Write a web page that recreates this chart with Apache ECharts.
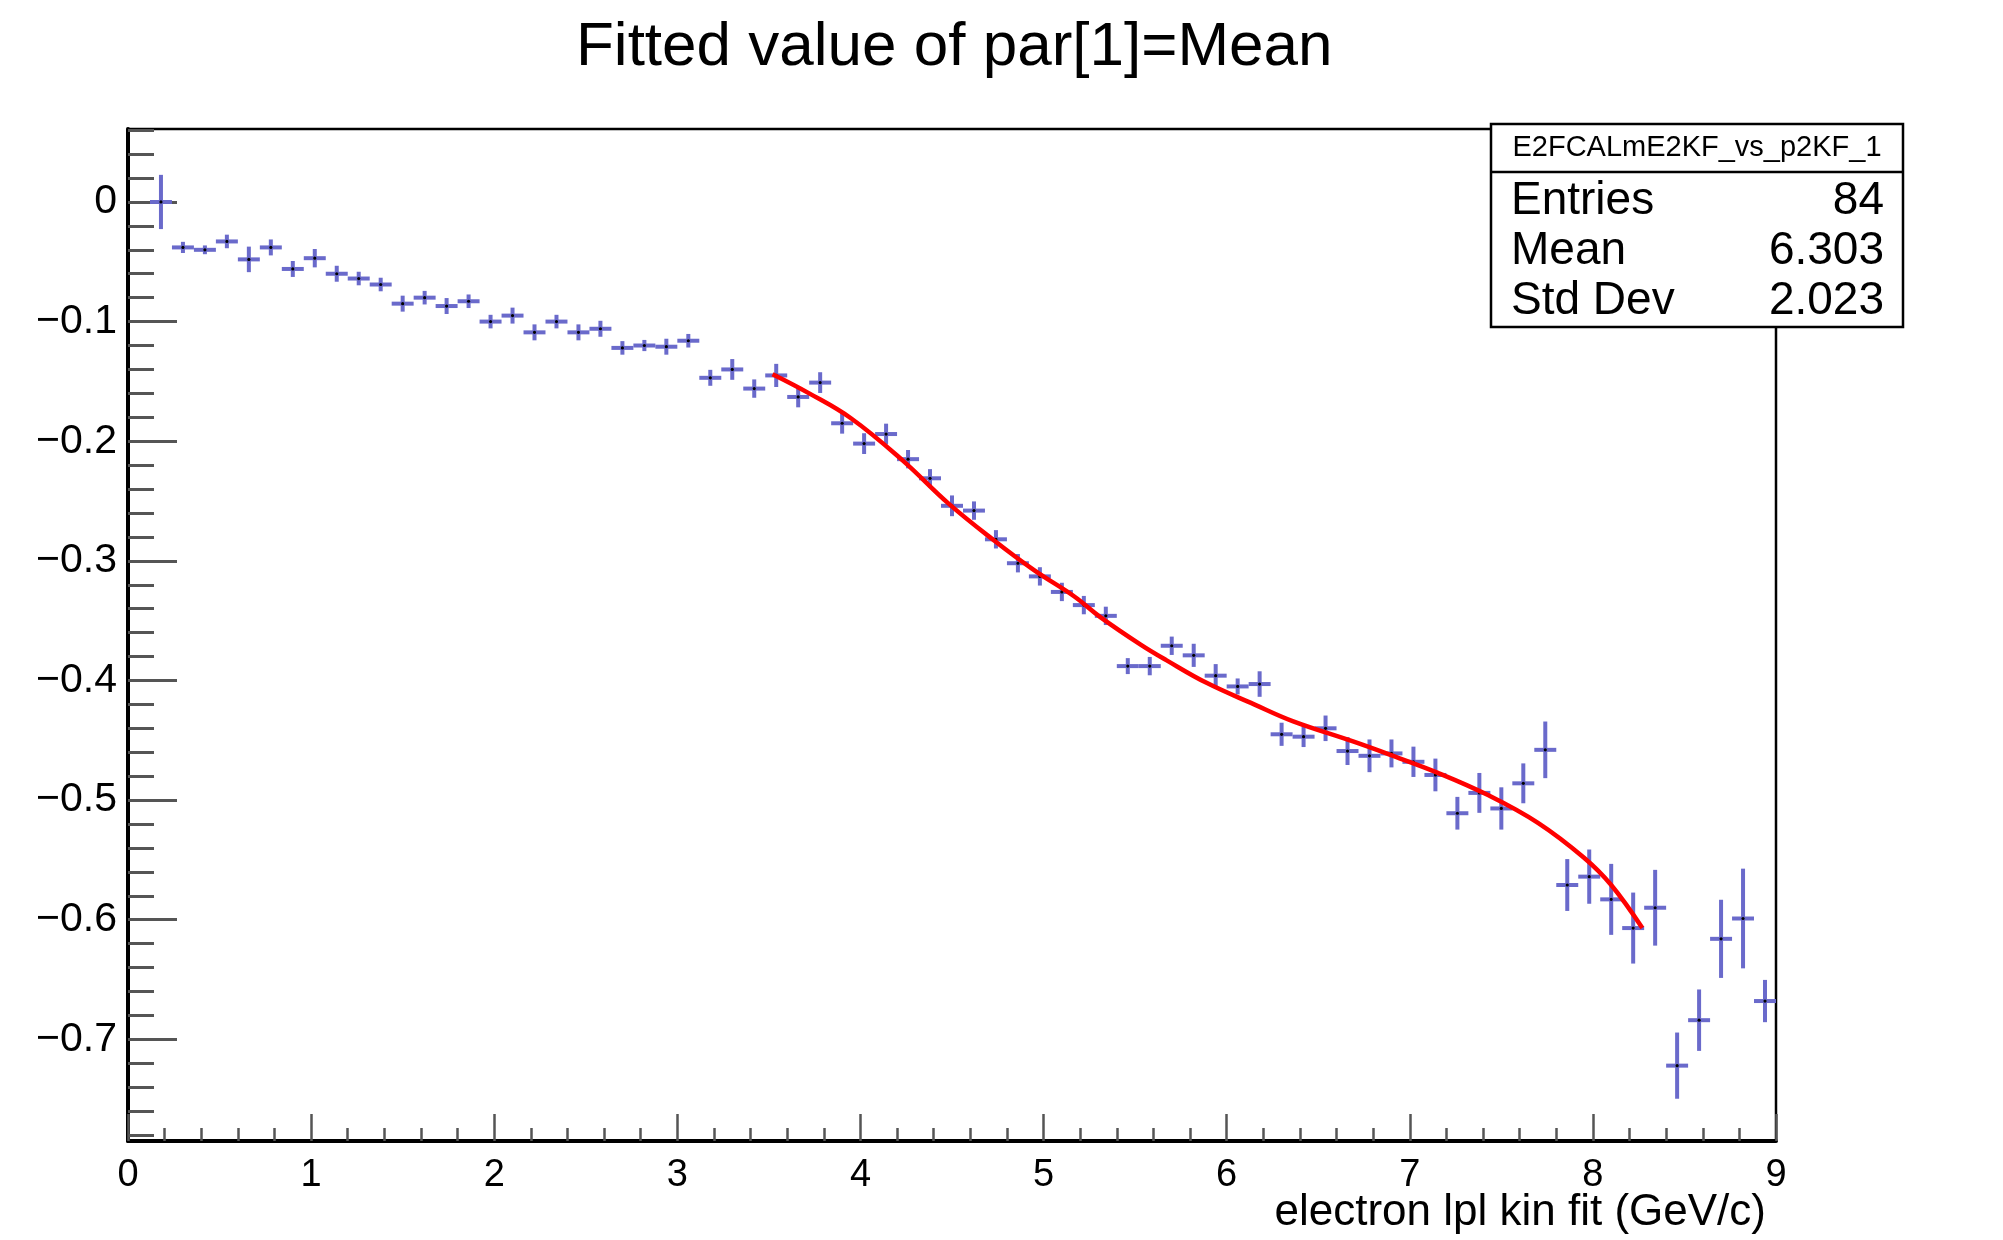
<!DOCTYPE html>
<html>
<head>
<meta charset="utf-8">
<script src="https://cdn.jsdelivr.net/npm/echarts@6/dist/echarts.min.js"></script>
<style>
html,body{margin:0;padding:0;background:#fff;}
#chart{width:2003px;height:1240px;}
</style>
</head>
<body>
<div id="chart"></div>
<script>
// ---- data ----
const binWidth = 0.12;
const xValues = [0.18,0.30,0.42,0.54,0.66,0.78,0.90,1.02,1.14,1.26,1.38,1.50,1.62,1.74,1.86,1.98,2.10,2.22,2.34,2.46,
  2.58,2.70,2.82,2.94,3.06,3.18,3.30,3.42,3.54,3.66,3.78,3.90,4.02,4.14,4.26,4.38,4.50,4.62,4.74,4.86,
  4.98,5.10,5.22,5.34,5.46,5.58,5.70,5.82,5.94,6.06,6.18,6.30,6.42,6.54,6.66,6.78,6.90,7.02,7.14,7.26,
  7.38,7.50,7.62,7.74,7.86,7.98,8.10,8.22,8.34,8.46,8.58,8.70,8.82,8.94];
const meanValues = [0.000,-0.038,-0.040,-0.033,-0.048,-0.038,-0.056,-0.047,-0.060,-0.064,-0.069,-0.085,-0.080,-0.087,-0.083,-0.100,-0.095,-0.109,-0.100,-0.109,
  -0.106,-0.122,-0.120,-0.121,-0.116,-0.147,-0.140,-0.156,-0.145,-0.163,-0.151,-0.185,-0.202,-0.194,-0.215,-0.231,-0.254,-0.258,-0.282,-0.302,
  -0.313,-0.326,-0.337,-0.346,-0.388,-0.388,-0.371,-0.379,-0.396,-0.405,-0.403,-0.445,-0.447,-0.440,-0.459,-0.463,-0.461,-0.468,-0.479,-0.511,
  -0.494,-0.507,-0.486,-0.458,-0.571,-0.564,-0.583,-0.607,-0.590,-0.722,-0.684,-0.616,-0.599,-0.668];
const meanErrors = [0.021,0.003,0.002,0.004,0.009,0.005,0.005,0.006,0.005,0.004,0.004,0.005,0.004,0.005,0.004,0.004,0.005,0.005,0.004,0.005,
  0.005,0.004,0.003,0.005,0.004,0.005,0.007,0.006,0.008,0.007,0.007,0.007,0.007,0.007,0.006,0.006,0.007,0.006,0.006,0.006,
  0.006,0.006,0.006,0.006,0.005,0.006,0.006,0.008,0.008,0.005,0.009,0.008,0.007,0.009,0.010,0.012,0.010,0.011,0.012,0.012,
  0.015,0.016,0.015,0.022,0.020,0.021,0.028,0.028,0.030,0.026,0.024,0.031,0.040,0.016];
const fitX = [3.52,3.72,3.95,4.23,4.48,4.73,4.95,5.17,5.31,5.53,5.67,5.89,6.15,6.36,6.69,6.89,7.15,7.43,7.70,7.95,8.10,8.27];
const fitY = [-0.144,-0.160,-0.181,-0.216,-0.252,-0.283,-0.308,-0.330,-0.347,-0.370,-0.383,-0.402,-0.420,-0.434,-0.451,-0.462,-0.477,-0.496,-0.519,-0.548,-0.571,-0.607];
const yMajorTicks = [0,-0.1,-0.2,-0.3,-0.4,-0.5,-0.6,-0.7];
const yMinorTicks = [0.06,0.04,0.02,0,-0.02,-0.04,-0.06,-0.08,-0.1,-0.12,-0.14,-0.16,-0.18,-0.2,-0.22,-0.24,-0.26,-0.28,-0.3,
  -0.32,-0.34,-0.36,-0.38,-0.4,-0.42,-0.44,-0.46,-0.48,-0.5,-0.52,-0.54,-0.56,-0.58,-0.6,-0.62,-0.64,-0.66,-0.68,-0.7,-0.72,-0.74,-0.76,-0.78];
const statsTitle = 'E2FCALmE2KF_vs_p2KF_1';
const statsLabels = ['Entries','Mean','Std Dev'];
const statsValues = ['84','6.303','2.023'];
const chartTitle = 'Fitted value of par[1]=Mean';
const xTitle = 'electron lpl kin fit (GeV/c)';

// ---- chart ----
const FONT = '"Liberation Sans", Arial, Helvetica, sans-serif';
const chart = echarts.init(document.getElementById('chart'), null, {renderer: 'canvas'});
const points = xValues.map((x, i) => [x, meanValues[i], meanErrors[i]]);
const fitData = fitX.map((x, i) => [x, fitY[i]]);
const Y_MIN = -0.785, Y_MAX = 0.061;

function fmtY(v) {
  if (Math.abs(v) < 1e-9) return '0';
  return (v < 0 ? '\u2212' : '') + Math.abs(v).toFixed(1);
}

const rowY = [201, 251, 301];
const statsGraphic = [
  {type: 'rect', shape: {x: 1491, y: 124, width: 412, height: 203}, style: {fill: '#fff', stroke: '#000', lineWidth: 2.5}, z: 100},
  {type: 'line', shape: {x1: 1491, y1: 172, x2: 1903, y2: 172}, style: {stroke: '#000', lineWidth: 2.5}, z: 101},
  {type: 'text', x: 1697, y: 148, style: {text: statsTitle, font: '29px ' + FONT, fill: '#000', textAlign: 'center', textVerticalAlign: 'middle'}, z: 101}
];
statsLabels.forEach((lab, i) => {
  statsGraphic.push({type: 'text', x: 1511, y: rowY[i], style: {text: lab, font: '46px ' + FONT, fill: '#000', textAlign: 'left', textVerticalAlign: 'middle'}, z: 101});
  statsGraphic.push({type: 'text', x: 1884, y: rowY[i], style: {text: statsValues[i], font: '46px ' + FONT, fill: '#000', textAlign: 'right', textVerticalAlign: 'middle'}, z: 101});
});

const option = {
  backgroundColor: '#fff',
  animation: false,
  title: {
    text: chartTitle, left: 571, top: 12,
    textStyle: {fontFamily: FONT, fontSize: 62, fontWeight: 'normal', color: '#000'}
  },
  grid: {left: 128, top: 129, right: 227, bottom: 99, show: true, borderColor: '#000', borderWidth: 2.5, backgroundColor: 'transparent'},
  xAxis: {
    type: 'value', min: 0, max: 9, interval: 1,
    axisLine: {show: true, onZero: false, lineStyle: {color: '#000', width: 4}},
    axisTick: {show: true, inside: true, length: 27, lineStyle: {color: '#555', width: 2.5}},
    minorTick: {show: true, splitNumber: 5, length: 13, lineStyle: {color: '#555', width: 2.5}},
    splitLine: {show: false},
    axisLabel: {fontFamily: FONT, fontSize: 38, color: '#000', margin: 16, showMinLabel: true, showMaxLabel: true}
  },
  yAxis: [{
    type: 'value', min: Y_MIN, max: Y_MAX,
    axisLine: {show: true, onZero: false, lineStyle: {color: '#000', width: 4}},
    axisTick: {show: true, inside: true, length: 49, customValues: yMajorTicks, lineStyle: {color: '#555', width: 3}},
    axisLabel: {fontFamily: FONT, fontSize: 41, color: '#000', margin: 11, customValues: yMajorTicks, formatter: fmtY},
    splitLine: {show: false}
  }, {
    type: 'value', min: Y_MIN, max: Y_MAX, position: 'left',
    axisLine: {show: false, onZero: false},
    axisTick: {show: true, inside: true, length: 26, customValues: yMinorTicks, lineStyle: {color: '#555', width: 3}},
    axisLabel: {show: false},
    splitLine: {show: false}
  }],
  series: [{
    type: 'custom',
    xAxisIndex: 0, yAxisIndex: 0,
    data: points,
    z: 5,
    renderItem: function (params, api) {
      const x = api.value(0), y = api.value(1), e = api.value(2);
      const l = api.coord([x - binWidth / 2, y]);
      const r = api.coord([x + binWidth / 2, y]);
      const t = api.coord([x, y + e]);
      const b = api.coord([x, y - e]);
      const c = api.coord([x, y]);
      const st = {stroke: '#6a6acb', lineWidth: 4};
      return {type: 'group', children: [
        {type: 'line', shape: {x1: l[0], y1: l[1], x2: r[0], y2: r[1]}, style: st},
        {type: 'line', shape: {x1: t[0], y1: t[1] - 2, x2: b[0], y2: b[1] + 2}, style: st},
        {type: 'circle', shape: {cx: c[0], cy: c[1], r: 1.6}, style: {fill: '#000'}}
      ]};
    }
  }, {
    type: 'line', xAxisIndex: 0, yAxisIndex: 0,
    data: fitData, smooth: 0.4, showSymbol: false, z: 6,
    lineStyle: {color: '#ff0000', width: 4.5}
  }],
  graphic: [
    {type: 'text', x: 1766, y: 1213, style: {text: xTitle, font: '44px ' + FONT, fill: '#000', textAlign: 'right', textVerticalAlign: 'middle'}, z: 50}
  ].concat(statsGraphic)
};
chart.setOption(option);
</script>
</body>
</html>
